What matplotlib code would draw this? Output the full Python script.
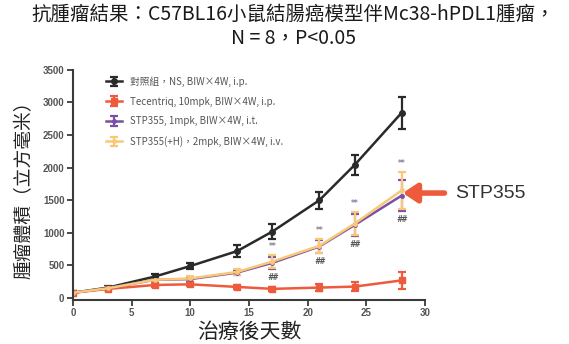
import matplotlib
matplotlib.use("Agg")
import matplotlib.pyplot as plt
import numpy as np

# ── Data ───────
days = [0, 3, 7, 10, 14, 17, 21, 24, 28]

ctrl_vol   = [80, 160, 330, 490, 720, 1020, 1500, 2040, 2840]
ctrl_err   = [20, 25, 35, 50, 90, 115, 130, 150, 240]
tec_vol    = [80, 140, 200, 210, 170, 140, 160, 175, 270]
tec_err    = [20, 20, 30, 30, 30, 30, 60, 70, 130]
stp_vol    = [80, 150, 280, 290, 390, 540, 790, 1120, 1570]
stp_err    = [15, 20, 25, 30, 40, 90, 100, 170, 240]
stph_vol   = [80, 150, 280, 300, 400, 560, 800, 1140, 1650]
stph_err   = [15, 20, 25, 30, 40, 100, 110, 180, 280]

sig_days   = [17, 21, 24, 28]

labels = [
    "對照組，NS, BIW×4W, i.p.",
    "Tecentriq, 10mpk, BIW×4W, i.p.",
    "STP355, 1mpk, BIW×4W, i.t.",
    "STP355(+H)，2mpk, BIW×4W, i.v.",
]

# ── Colors ──────
C_BLACK  = "#2a2a2a"
C_RED    = "#EE5A3C"
C_PURPLE = "#7A4FA6"
C_YELLOW = "#F8C878"
C_AXIS   = "#3A3A3A"
C_TICK   = "#555555"

CJK = ["Noto Sans CJK TC", "DejaVu Sans"]

fig = plt.figure(figsize=(5.69, 3.44), dpi=100, facecolor="white")
ax = fig.add_axes([0.128, 0.128, 0.619, 0.669])

series = [
    (ctrl_vol, ctrl_err, C_BLACK, "o", 4, labels[0]),
    (tec_vol, tec_err, C_RED, "s", 4, labels[1]),
    (stp_vol, stp_err, C_PURPLE, "o", 2.5, labels[2]),
    (stph_vol, stph_err, C_YELLOW, "o", 2.5, labels[3]),
]
for vol, err, col, mk, ms, lab in series:
    ax.errorbar(days, vol, yerr=err, color=col, marker=mk, markersize=ms,
                linewidth=1.8, elinewidth=1.6, capsize=3, capthick=1.6,
                label=lab)

# significance marks above / below the STP355 error bars
for d in sig_days:
    i = days.index(d)
    top = max(stph_vol[i] + stph_err[i], stp_vol[i] + stp_err[i])
    bot = min(stph_vol[i] - stph_err[i], stp_vol[i] - stp_err[i])
    ax.annotate("**", (d, top), textcoords="offset points", xytext=(0, 3),
                ha="center", va="bottom", fontsize=5.5, color="#8a7fa0",
                fontweight="bold")
    ax.annotate("##", (d, bot), textcoords="offset points", xytext=(0, -3),
                ha="center", va="top", fontsize=5.5, color="#555555",
                fontweight="bold", style="italic")

# arrow pointing at the STP355 end point
ax.annotate("STP355", xy=(28.1, stp_vol[-1] + 40), xytext=(32.6, stp_vol[-1] + 40),
            ha="left", va="center", fontsize=14, color="#333333",
            family="Liberation Sans", annotation_clip=False,
            arrowprops=dict(arrowstyle="-|>,head_width=0.4,head_length=0.6",
                            color=C_RED, lw=4, shrinkA=6, shrinkB=0))

ax.set_xlim(0, 30)
ax.set_ylim(-30, 3500)
ax.set_xticks(np.arange(0, 31, 5))
ax.set_yticks(np.arange(0, 3501, 500))
ax.spines[["top", "right"]].set_visible(False)
for s in ["left", "bottom"]:
    ax.spines[s].set_color(C_AXIS)
    ax.spines[s].set_linewidth(1.5)
ax.tick_params(direction="out", length=4, width=1.3, color=C_AXIS,
               labelsize=7, labelcolor=C_TICK, pad=2)
for t in ax.get_xticklabels() + ax.get_yticklabels():
    t.set_fontweight("bold")
    t.set_family("Liberation Sans")

ax.set_xlabel("治療後天數", fontsize=15, family=CJK, color="#222222", labelpad=2)
ax.set_ylabel("腫瘤體積（立方毫米）", fontsize=13.5, family=CJK, color="#222222",
              labelpad=6)

leg = ax.legend(loc="upper left", bbox_to_anchor=(0.07, 1.01), frameon=False,
                prop={"family": CJK, "size": 7}, handlelength=1.6,
                labelspacing=1.0, handletextpad=0.8)
for t in leg.get_texts():
    t.set_color("#555555")

fig.suptitle("抗腫瘤結果：C57BL16小鼠結腸癌模型伴Mc38-hPDL1腫瘤，\nN = 8，P<0.05",
             x=0.515, y=0.99, fontsize=14, family=CJK, color="#1a1a1a",
             linespacing=1.2)

fig.savefig("out.png", dpi=100, facecolor="white")
